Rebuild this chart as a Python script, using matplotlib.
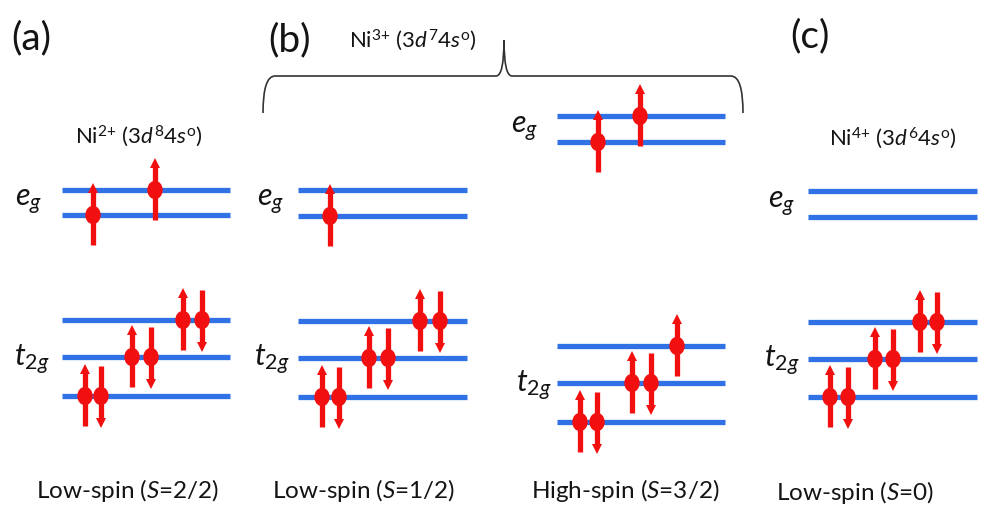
import numpy as np
import matplotlib.pyplot as plt
from matplotlib.path import Path
from matplotlib.patches import PathPatch, Ellipse

plt.rcParams['font.family'] = ['Lato', 'DejaVu Sans']
plt.rcParams['mathtext.fontset'] = 'custom'
plt.rcParams['mathtext.rm'] = 'Lato'
plt.rcParams['mathtext.it'] = 'Lato:italic'
plt.rcParams['mathtext.bf'] = 'Lato:bold'

BLUE = '#3071e6'
RED = '#f20f0f'
INK = '#141414'

# the four level diagrams (pixel coords, y down)
diagrams = ['a', 'b_ls', 'b_hs', 'c']
level_span = {'a': (62, 230), 'b_ls': (298, 467), 'b_hs': (557, 725), 'c': (808, 977)}
# lower eg first, then upper
eg_y = {'a': [215, 190], 'b_ls': [216, 190], 'b_hs': [142, 116], 'c': [217, 191]}
# bottom t2g first
t2g_y = {'a': [396, 357, 320], 'b_ls': [397, 358, 321],
         'b_hs': [422, 383, 346], 'c': [397, 359, 322]}

# electrons: (x, level index, spin +1 up / -1 down)
eg_electrons = {
    'a': [(93, 0, 1), (155, 1, 1)],
    'b_ls': [(330, 0, 1)],
    'b_hs': [(598, 0, 1), (640, 1, 1)],
    'c': [],
}
t2g_electrons = {
    'a': [(85, 0, 1), (101, 0, -1), (132, 1, 1), (151, 1, -1), (183, 2, 1), (202, 2, -1)],
    'b_ls': [(322, 0, 1), (339, 0, -1), (369, 1, 1), (388, 1, -1), (420, 2, 1), (440, 2, -1)],
    'b_hs': [(580, 0, 1), (597, 0, -1), (632, 1, 1), (651, 1, -1), (677, 2, 1)],
    'c': [(830, 0, 1), (848, 0, -1), (875, 1, 1), (893, 1, -1), (920, 2, 1), (937, 2, -1)],
}

# level labels: (right edge x, y center)
eg_label = {'a': (42, 202), 'b_ls': (284, 202), 'b_hs': (538, 129), 'c': (795, 204)}
t2g_label = {'a': (50, 360), 'b_ls': (290, 360), 'b_hs': (552, 386), 'c': (800, 361)}

panel_tags = [('(a)', 31, 38), ('(b)', 290, 40), ('(c)', 810, 36)]
ion_labels = [(r'Ni$^{2{+}}$ (3$d^8$4$s^{\mathrm{o}}$)', 139, 136),
              (r'Ni$^{3{+}}$ (3$d^7$4$s^{\mathrm{o}}$)', 413, 40),
              (r'Ni$^{4{+}}$ (3$d^6$4$s^{\mathrm{o}}$)', 893, 138)]
spin_labels = [(r'Low-spin ($S$=2/2)', 128, 491),
               (r'Low-spin ($S$=1/2)', 364, 491),
               (r'High-spin ($S$=3/2)', 625, 491),
               (r'Low-spin ($S$=0)', 855, 493)]


def draw_electron(ax, x, y, spin):
    half = 30
    if spin > 0:
        ax.plot([x, x], [y + half, y - half + 6], color=RED, lw=3.8,
                solid_capstyle='butt', zorder=4)
        ax.plot(x, y - half + 3, marker='^', ms=7, color=RED, mew=0, zorder=4)
    else:
        ax.plot([x, x], [y - half, y + half - 6], color=RED, lw=3.8,
                solid_capstyle='butt', zorder=4)
        ax.plot(x, y + half - 3, marker='v', ms=7, color=RED, mew=0, zorder=4)
    ax.add_patch(Ellipse((x, y), 14, 17, color=RED, zorder=5))


fig = plt.figure(figsize=(9.9, 5.08), dpi=100)
ax = fig.add_axes([0, 0, 1, 1])
ax.set_xlim(0, 990)
ax.set_ylim(508, 0)
ax.axis('off')

for d in diagrams:
    x0, x1 = level_span[d]
    for y in eg_y[d] + t2g_y[d]:
        ax.plot([x0, x1], [y, y], color=BLUE, lw=3.8, solid_capstyle='butt', zorder=2)
    for x, i, s in eg_electrons[d]:
        draw_electron(ax, x, eg_y[d][i], s)
    for x, i, s in t2g_electrons[d]:
        draw_electron(ax, x, t2g_y[d][i], s)
    ex, ey = eg_label[d]
    ax.text(ex, ey, r'$e_g$', fontsize=22, ha='right', va='center', color=INK)
    tx, ty = t2g_label[d]
    ax.text(tx, ty, r'$t_{2g}$', fontsize=22, ha='right', va='center', color=INK)

for s, x, y in panel_tags:
    ax.text(x, y, s, fontsize=28, ha='center', va='center', color=INK)
for s, x, y in ion_labels:
    ax.text(x, y, s, fontsize=16, ha='center', va='center', color=INK)
for s, x, y in spin_labels:
    ax.text(x, y, s, fontsize=17.5, ha='center', va='center', color=INK)

# curly brace over panel (b)
bl, br, bm, by, btip, bend = 263, 743, 504, 76, 40, 113
verts = [(bl, bend), (bl, by), (bl + 12, by), (bm - 8, by),
         (bm, by), (bm, btip), (bm, by), (bm + 8, by),
         (br - 12, by), (br, by), (br, bend)]
codes = [Path.MOVETO, Path.CURVE3, Path.CURVE3, Path.LINETO,
         Path.CURVE3, Path.CURVE3, Path.CURVE3, Path.CURVE3,
         Path.LINETO, Path.CURVE3, Path.CURVE3]
ax.add_patch(PathPatch(Path(verts, codes), fill=False, lw=1.2, color='#333333'))

fig.savefig('out.png', dpi=100)
